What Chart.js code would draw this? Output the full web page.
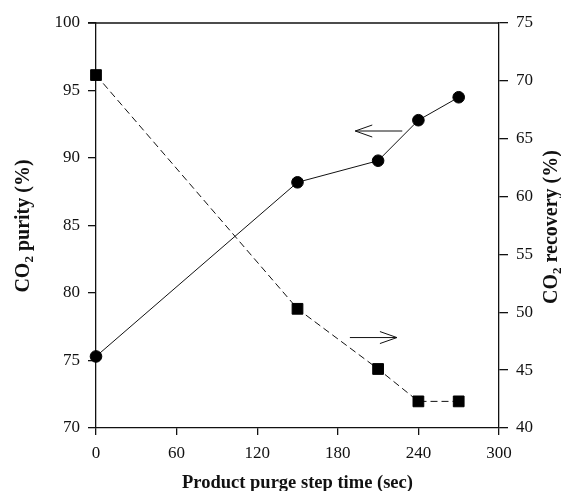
<!DOCTYPE html>
<html><head><meta charset="utf-8">
<script src="https://cdn.jsdelivr.net/npm/chart.js@4.4.1/dist/chart.umd.min.js"></script>
<style>html,body{margin:0;padding:0;background:#fff;}#wrap{width:561px;height:491px;}</style>
</head><body><div id="wrap"><canvas id="c" width="561" height="491"></canvas></div>
<script>
const times = [0, 150, 210, 240, 270];
const purity = [75.3, 88.2, 89.8, 92.8, 94.5];
const recovery = [70.5, 50.3, 45.1, 42.3, 42.3];
const xTitle = 'Product purge step time (sec)';
const yLeftTitle = ['CO', '2', ' purity (%)'];
const yRightTitle = ['CO', '2', ' recovery (%)'];
// arrow annotations: [xFrom, xTo, purityLevel]
const arrowLeft = [228, 193, 92.0];
const arrowRight = [189, 224, 76.7];

const FONT = '"Liberation Serif", "Times New Roman", serif';

function drawSubTitle(ctx, parts, size) {
  ctx.font = 'bold ' + size + 'px ' + FONT;
  const w1 = ctx.measureText(parts[0]).width;
  ctx.font = 'bold ' + Math.round(size * 0.65) + 'px ' + FONT;
  const w2 = ctx.measureText(parts[1]).width;
  ctx.font = 'bold ' + size + 'px ' + FONT;
  const w3 = ctx.measureText(parts[2]).width;
  let x = -(w1 + w2 + w3) / 2;
  ctx.textBaseline = 'middle';
  ctx.textAlign = 'left';
  ctx.fillText(parts[0], x, 0);
  ctx.font = 'bold ' + Math.round(size * 0.65) + 'px ' + FONT;
  ctx.fillText(parts[1], x + w1, size * 0.3);
  ctx.font = 'bold ' + size + 'px ' + FONT;
  ctx.fillText(parts[2], x + w1 + w2, 0);
}

const decor = {
  id: 'decor',
  afterDraw(chart) {
    const ctx = chart.ctx, a = chart.chartArea;
    const xs = chart.scales.x, ys = chart.scales.y;
    ctx.save();
    ctx.strokeStyle = '#111';
    ctx.fillStyle = '#111';
    ctx.lineWidth = 1.3;
    // top frame line
    ctx.beginPath();
    ctx.moveTo(a.left - 8, a.top);
    ctx.lineTo(a.right, a.top);
    ctx.stroke();
    // arrows
    ctx.lineWidth = 1;
    [arrowLeft, arrowRight].forEach(ar => {
      const x0 = xs.getPixelForValue(ar[0]);
      const x1 = xs.getPixelForValue(ar[1]);
      const y = ys.getPixelForValue(ar[2]);
      const dir = Math.sign(x1 - x0);
      ctx.beginPath();
      ctx.moveTo(x0, y);
      ctx.lineTo(x1, y);
      ctx.moveTo(x1 - dir * 17, y - 6);
      ctx.lineTo(x1, y);
      ctx.lineTo(x1 - dir * 17, y + 6);
      ctx.stroke();
    });
    // titles
    ctx.font = 'bold 18.5px ' + FONT;
    ctx.textAlign = 'center';
    ctx.textBaseline = 'middle';
    ctx.fillText(xTitle, (a.left + a.right) / 2, 483);
    ctx.save();
    ctx.translate(24, 226);
    ctx.rotate(-Math.PI / 2);
    drawSubTitle(ctx, yLeftTitle, 20);
    ctx.restore();
    ctx.save();
    ctx.translate(552, 227);
    ctx.rotate(-Math.PI / 2);
    drawSubTitle(ctx, yRightTitle, 20);
    ctx.restore();
    ctx.restore();
  }
};

const tickFont = { family: FONT, size: 17 };

new Chart(document.getElementById('c'), {
  type: 'line',
  data: {
    datasets: [
      {
        label: 'CO2 purity',
        data: times.map((t, i) => ({ x: t, y: purity[i] })),
        yAxisID: 'y',
        borderColor: '#111',
        borderWidth: 1,
        pointStyle: 'circle',
        pointRadius: 5.8,
        pointBackgroundColor: '#000',
        pointBorderColor: '#000',
        clip: false
      },
      {
        label: 'CO2 recovery',
        data: times.map((t, i) => ({ x: t, y: recovery[i] })),
        yAxisID: 'y2',
        borderColor: '#111',
        borderWidth: 1,
        borderDash: [7, 4],
        pointStyle: 'rect',
        pointRadius: 7.6,
        pointBackgroundColor: '#000',
        pointBorderColor: '#000',
        clip: false
      }
    ]
  },
  options: {
    responsive: false,
    animation: false,
    layout: { padding: { top: 23, left: 0, right: 0, bottom: 0 } },
    plugins: { legend: { display: false }, tooltip: { enabled: false } },
    scales: {
      x: {
        type: 'linear',
        min: 0, max: 300,
        ticks: { stepSize: 60, color: '#111', font: tickFont, padding: 8, maxRotation: 0 },
        grid: { drawOnChartArea: false, drawTicks: true, tickLength: 7, color: '#111', lineWidth: 1.3 },
        border: { display: true, color: '#111', width: 1.3 },
        afterFit(s) { s.height = 63; }
      },
      y: {
        position: 'left',
        min: 70, max: 100,
        ticks: { stepSize: 5, color: '#111', font: tickFont, padding: 8 },
        grid: { drawOnChartArea: false, drawTicks: true, tickLength: 8, color: '#111', lineWidth: 1.3 },
        border: { display: true, color: '#111', width: 1.3 },
        afterFit(s) { s.width = 96; }
      },
      y2: {
        position: 'right',
        min: 40, max: 75,
        ticks: { stepSize: 5, color: '#111', font: tickFont, padding: 8 },
        grid: { drawOnChartArea: false, drawTicks: true, tickLength: 9, color: '#111', lineWidth: 1.3 },
        border: { display: true, color: '#111', width: 1.3 },
        afterFit(s) { s.width = 62; }
      }
    }
  },
  plugins: [decor]
});
</script>
</body></html>
